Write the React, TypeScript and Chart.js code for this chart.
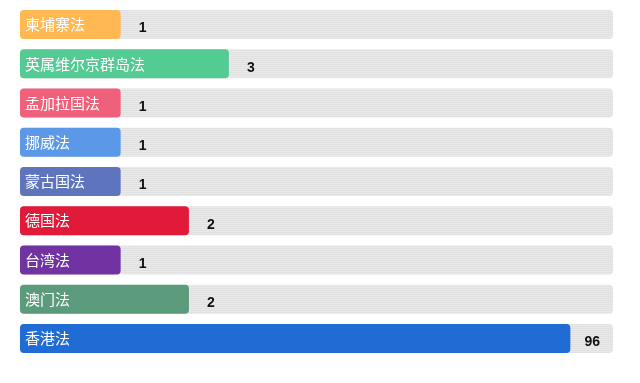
import React, { useEffect, useRef } from "react";
import { Chart, registerables } from "chart.js";

Chart.register(...registerables);

const CATEGORIES = ["柬埔寨法", "英属维尔京群岛法", "孟加拉国法", "挪威法", "蒙古国法", "德国法", "台湾法", "澳门法", "香港法"];
const VALUES = [1, 3, 1, 1, 1, 2, 1, 2, 96];
const COLORS = ["#ffb852", "#53cb92", "#ef607a", "#5c98e8", "#5e74bc", "#e21a3a", "#7033a1", "#5b9a7b", "#216bd4"];
const AXIS_MIN = 0.36;
const AXIS_MAX = 148;
const TRACK_VALUES = [148, 148, 148, 148, 148, 148, 148, 148, 148];

function makePattern(): CanvasPattern | string {
  const c = document.createElement("canvas");
  c.width = 4;
  c.height = 4;
  const g = c.getContext("2d");
  if (!g) return "#e7e7e7";
  g.fillStyle = "#e9e9e9";
  g.fillRect(0, 0, 4, 4);
  g.fillStyle = "#e1e1e1";
  g.fillRect(0, 0, 4, 1);
  g.fillRect(0, 2, 4, 1);
  return g.createPattern(c, "repeat") || "#e7e7e7";
}

export default function App() {
  const ref = useRef<HTMLCanvasElement | null>(null);
  useEffect(() => {
    if (!ref.current) return;
    const labelPlugin = {
      id: "barLabels",
      afterDatasetsDraw(chart: any) {
        const ctx = chart.ctx;
        const meta = chart.getDatasetMeta(1);
        ctx.save();
        meta.data.forEach((bar: any, i: number) => {
          ctx.font = '15px "Noto Sans CJK SC", "Liberation Sans", sans-serif';
          ctx.fillStyle = "#ffffff";
          ctx.textAlign = "left";
          ctx.textBaseline = "middle";
          ctx.fillText(CATEGORIES[i], bar.base + 5, bar.y);
          ctx.font = 'bold 14px "Liberation Sans", Arial, sans-serif';
          ctx.fillStyle = "#111111";
          ctx.textAlign = "center";
          ctx.fillText(String(VALUES[i]), bar.x + 22, bar.y + 4);
        });
        ctx.restore();
      },
    };
    const chart = new Chart(ref.current, {
      type: "bar",
      data: {
        labels: CATEGORIES,
        datasets: [
          {
            data: TRACK_VALUES,
            backgroundColor: makePattern() as any,
            borderRadius: 4,
            borderSkipped: false,
            grouped: false,
            order: 2,
            barPercentage: 1,
            categoryPercentage: 0.74,
          } as any,
          {
            data: VALUES,
            backgroundColor: COLORS,
            borderRadius: 4,
            borderSkipped: false,
            grouped: false,
            order: 1,
            barPercentage: 1,
            categoryPercentage: 0.74,
          } as any,
        ],
      },
      options: {
        indexAxis: "y",
        animation: false,
        responsive: true,
        maintainAspectRatio: false,
        layout: { padding: { top: 5, bottom: 25, left: 20, right: 27 } },
        plugins: { legend: { display: false }, tooltip: { enabled: false } },
        scales: {
          x: { type: "logarithmic", min: AXIS_MIN, max: AXIS_MAX, display: false },
          y: { display: false },
        },
      },
      plugins: [labelPlugin],
    });
    return () => chart.destroy();
  }, []);
  return (
    <div style={{ position: "absolute", left: 0, top: 0, width: 640, height: 383 }}>
      <canvas ref={ref} />
    </div>
  );
}
